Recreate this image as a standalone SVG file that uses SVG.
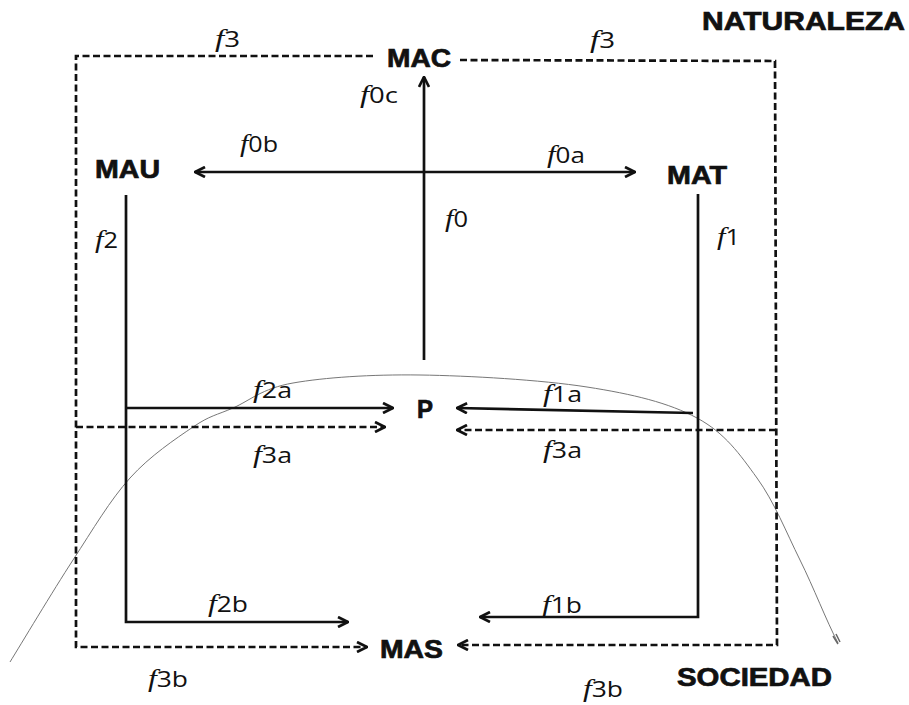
<svg xmlns="http://www.w3.org/2000/svg" width="909" height="705" viewBox="0 0 909 705">
<style>
.node{font-family:"Liberation Sans",Arial,sans-serif;font-weight:bold;font-size:25px;fill:#111;stroke:#111;stroke-width:0.7}
.lab{font-family:"Open Sans","DejaVu Sans",sans-serif;font-size:21px;fill:#111}
.fi{font-family:"Liberation Serif","DejaVu Serif",serif;font-style:italic;font-size:25px}
.solid{fill:none;stroke:#111;stroke-width:2.7}
.dash{fill:none;stroke:#111;stroke-width:2.7;stroke-dasharray:7 3.5}
.curve{fill:none;stroke:#777;stroke-width:1}
</style>
<defs>
<marker id="ah" viewBox="0 0 12 12" refX="11" refY="6" markerWidth="12" markerHeight="12" markerUnits="userSpaceOnUse" orient="auto-start-reverse">
<path d="M1,1 L11,6 L1,11" fill="none" stroke="#111" stroke-width="2.7"/>
</marker>
</defs>
<rect width="909" height="705" fill="#fff"/>
<g id="curve">
<path class="curve" d="M10,662 C20.5,645 53,590.7 73,560 C93,529.3 110,500.2 130,478 C150,455.8 175.8,438.7 193,427 C210.2,415.3 216.3,415.3 233,408 C249.7,400.7 261.8,388.5 293,383 C324.2,377.5 371,374.3 420,375 C469,375.7 540.8,379.8 587,387 C633.2,394.2 668.7,402.8 697,418 C725.3,433.2 739.8,454.3 757,478 C774.2,501.7 786.2,532.2 800,560 C813.8,587.8 826,620 838,643"/>
<path d="M833,636 L838,644 M836,634 L840,642" stroke="#666" stroke-width="1.5" fill="none"/>
</g>
<g id="connectors">
<path class="dash" d="M373,56 H76 V647 H367" marker-end="url(#ah)"/>
<path class="dash" d="M460,60 L775,61 L777,645 H458" marker-end="url(#ah)"/>
<path class="dash" d="M76,427 H385" marker-end="url(#ah)"/>
<path class="dash" d="M776,430 H457" marker-end="url(#ah)"/>
<path class="solid" d="M126,195 V622 H348" marker-end="url(#ah)"/>
<path class="solid" d="M125,408 H393" marker-end="url(#ah)"/>
<path class="solid" d="M698,194 V617 H480" marker-end="url(#ah)"/>
<path class="solid" d="M693,413 L457,408" marker-end="url(#ah)"/>
<path class="solid" d="M424,360 V77" marker-end="url(#ah)"/>
<path class="solid" d="M195,172 H635" marker-start="url(#ah)" marker-end="url(#ah)"/>
</g>
<g id="MAC"><text class="node" x="387" y="67" textLength="64" lengthAdjust="spacingAndGlyphs">MAC</text></g>
<g id="MAU"><text class="node" x="95" y="178" textLength="65" lengthAdjust="spacingAndGlyphs">MAU</text></g>
<g id="MAT"><text class="node" x="667" y="184" textLength="60" lengthAdjust="spacingAndGlyphs">MAT</text></g>
<g id="P"><text class="node" x="417" y="418" textLength="16" lengthAdjust="spacingAndGlyphs">P</text></g>
<g id="MAS"><text class="node" x="380" y="658" textLength="63" lengthAdjust="spacingAndGlyphs">MAS</text></g>
<g id="NATURALEZA"><text class="node" x="702" y="30" textLength="203" lengthAdjust="spacingAndGlyphs">NATURALEZA</text></g>
<g id="SOCIEDAD"><text class="node" x="677" y="686" textLength="155" lengthAdjust="spacingAndGlyphs">SOCIEDAD</text></g>
<g id="labels">
<text class="lab" x="215" y="47" textLength="25" lengthAdjust="spacingAndGlyphs"><tspan class="fi">f</tspan>3</text>
<text class="lab" x="590" y="48" textLength="25" lengthAdjust="spacingAndGlyphs"><tspan class="fi">f</tspan>3</text>
<text class="lab" x="360" y="103" textLength="38" lengthAdjust="spacingAndGlyphs"><tspan class="fi">f</tspan>0c</text>
<text class="lab" x="240" y="152" textLength="38" lengthAdjust="spacingAndGlyphs"><tspan class="fi">f</tspan>0b</text>
<text class="lab" x="547" y="163" textLength="38" lengthAdjust="spacingAndGlyphs"><tspan class="fi">f</tspan>0a</text>
<text class="lab" x="445" y="227" textLength="23" lengthAdjust="spacingAndGlyphs"><tspan class="fi">f</tspan>0</text>
<text class="lab" x="95" y="248" textLength="23" lengthAdjust="spacingAndGlyphs"><tspan class="fi">f</tspan>2</text>
<text class="lab" x="717" y="245" textLength="23" lengthAdjust="spacingAndGlyphs"><tspan class="fi">f</tspan>1</text>
<text class="lab" x="253" y="398" textLength="39" lengthAdjust="spacingAndGlyphs"><tspan class="fi">f</tspan>2a</text>
<text class="lab" x="253" y="463" textLength="39" lengthAdjust="spacingAndGlyphs"><tspan class="fi">f</tspan>3a</text>
<text class="lab" x="543" y="402" textLength="39" lengthAdjust="spacingAndGlyphs"><tspan class="fi">f</tspan>1a</text>
<text class="lab" x="543" y="458" textLength="39" lengthAdjust="spacingAndGlyphs"><tspan class="fi">f</tspan>3a</text>
<text class="lab" x="208" y="612" textLength="40" lengthAdjust="spacingAndGlyphs"><tspan class="fi">f</tspan>2b</text>
<text class="lab" x="542" y="613" textLength="40" lengthAdjust="spacingAndGlyphs"><tspan class="fi">f</tspan>1b</text>
<text class="lab" x="148" y="687" textLength="40" lengthAdjust="spacingAndGlyphs"><tspan class="fi">f</tspan>3b</text>
<text class="lab" x="583" y="697" textLength="40" lengthAdjust="spacingAndGlyphs"><tspan class="fi">f</tspan>3b</text>
</g>
</svg>
